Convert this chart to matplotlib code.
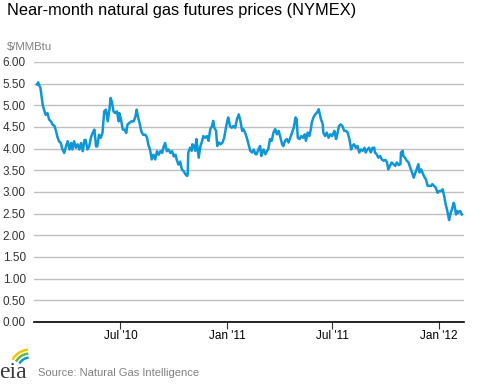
import matplotlib
matplotlib.use('Agg')
import matplotlib.pyplot as plt
from matplotlib.patches import Arc
import pandas as pd

plt.rcParams['font.family'] = ['Liberation Sans', 'DejaVu Sans']

# Near-month NYMEX natural gas futures ($/MMBtu)
start_date = '2010-02-04'
days = [3, 5, 7, 9, 11, 13, 16, 18, 21, 24, 27, 30, 33, 36, 38, 41, 44, 47, 50, 53,
        56, 59, 62, 64, 67, 70, 73, 76, 79, 82, 85, 87, 90, 93, 96, 99, 102, 105, 107, 110,
        113, 116, 119, 122, 125, 128, 130, 132, 135, 138, 141, 144, 145, 148, 151, 154, 157, 159, 162, 166,
        170, 173, 175, 177, 180, 183, 186, 190, 193, 195, 198, 201, 204, 207, 210, 213, 216, 219, 221, 224,
        227, 230, 233, 236, 239, 242, 244, 247, 250, 253, 256, 259, 262, 263, 264, 267, 270, 271, 274, 276,
        278, 280, 282, 285, 288, 290, 293, 296, 299, 302, 305, 307, 309, 312, 314, 317, 320, 323, 326, 329,
        332, 333, 336, 339, 342, 345, 348, 351, 354, 357, 359, 362, 365, 368, 371, 374, 377, 380, 382, 385,
        388, 390, 392, 394, 397, 400, 402, 405, 408, 411, 414, 417, 420, 423, 426, 428, 431, 434, 437, 440,
        443, 446, 449, 451, 453, 456, 459, 462, 465, 467, 470, 473, 476, 477, 480, 483, 486, 489, 493, 496,
        497, 500, 503, 506, 509, 512, 515, 516, 519, 521, 524, 527, 530, 533, 536, 539, 542, 545, 547, 550,
        553, 556, 559, 562, 565, 568, 570, 573, 576, 579, 582, 585, 586, 589, 592, 595, 598, 601, 604, 607,
        609, 612, 615, 618, 621, 624, 627, 630, 631, 634, 635, 638, 641, 644, 647, 650, 653, 656, 658, 661,
        663, 666, 669, 672, 674, 677, 680, 683, 685, 688, 691, 694, 697, 700, 703, 706, 708, 711, 714, 716,
        719, 722, 723, 726, 728, 730, 733, 736]
price = [5.48, 5.53, 5.46, 5.40, 5.20, 5.00, 4.86, 4.78, 4.82, 4.67, 4.63, 4.55, 4.53, 4.40, 4.28, 4.17, 4.13, 3.98, 3.90, 4.05,
         4.17, 3.98, 4.13, 3.98, 4.17, 4.02, 4.10, 3.98, 4.13, 3.94, 4.20, 4.20, 3.98, 4.05, 4.25, 4.36, 4.44, 4.05, 4.05, 4.32,
         4.25, 4.36, 4.86, 4.90, 4.63, 4.90, 5.17, 5.09, 4.86, 4.82, 4.86, 4.63, 4.82, 4.67, 4.44, 4.44, 4.36, 4.55, 4.59, 4.63,
         4.63, 4.75, 4.90, 4.75, 4.59, 4.40, 4.32, 4.32, 4.25, 4.09, 3.98, 3.75, 3.86, 3.75, 3.94, 3.86, 3.94, 3.90, 4.02, 4.13,
         3.94, 3.98, 3.90, 3.94, 3.82, 3.86, 3.75, 3.63, 3.70, 3.52, 3.48, 3.41, 3.37, 3.41, 3.90, 4.02, 3.95, 4.10, 4.06, 3.95,
         4.22, 4.02, 3.79, 4.06, 4.18, 4.29, 4.25, 4.29, 4.18, 4.45, 4.52, 4.64, 4.48, 4.41, 4.06, 4.14, 4.10, 4.14, 4.25, 4.48,
         4.68, 4.72, 4.52, 4.48, 4.52, 4.48, 4.68, 4.79, 4.64, 4.41, 4.45, 4.37, 4.25, 4.10, 3.95, 3.91, 3.98, 3.87, 3.87, 3.98,
         4.06, 3.83, 3.91, 3.98, 3.87, 3.95, 3.98, 4.22, 4.18, 4.37, 4.45, 4.33, 4.41, 4.25, 4.10, 4.06, 4.18, 4.22, 4.14, 4.25,
         4.37, 4.48, 4.72, 4.68, 4.25, 4.22, 4.29, 4.25, 4.33, 4.18, 4.37, 4.29, 4.48, 4.60, 4.72, 4.79, 4.83, 4.91, 4.68, 4.56,
         4.37, 4.29, 4.37, 4.25, 4.33, 4.29, 4.37, 4.41, 4.22, 4.33, 4.52, 4.56, 4.52, 4.41, 4.41, 4.37, 4.22, 3.98, 4.06, 4.10,
         4.02, 4.06, 3.91, 3.98, 3.95, 4.02, 3.91, 3.98, 4.02, 3.91, 4.02, 4.02, 3.91, 3.87, 3.79, 3.83, 3.75, 3.72, 3.74, 3.68,
         3.52, 3.60, 3.68, 3.64, 3.60, 3.68, 3.62, 3.64, 3.91, 3.95, 3.83, 3.79, 3.72, 3.68, 3.56, 3.45, 3.33, 3.45, 3.52, 3.64,
         3.45, 3.52, 3.41, 3.33, 3.29, 3.14, 3.14, 3.14, 3.18, 3.14, 3.10, 2.98, 3.02, 3.02, 3.06, 2.87, 2.72, 2.56, 2.35, 2.48,
         2.60, 2.75, 2.72, 2.48, 2.56, 2.52, 2.56, 2.48]

tick_dates = ['2010-07-01', '2011-01-01', '2011-07-01', '2012-01-01']
tick_labels = ["Jul '10", "Jan '11", "Jul '11", "Jan '12"]
y_ticks = [0, 0.5, 1, 1.5, 2, 2.5, 3, 3.5, 4, 4.5, 5, 5.5, 6]

dates = pd.Timestamp(start_date) + pd.to_timedelta(days, unit='D')

fig = plt.figure(figsize=(4.8, 3.85), dpi=100)
ax = fig.add_axes([0.071, 0.164, 0.896, 0.675])

ax.plot(dates, price, color='#0f96d6', lw=1.8, solid_joinstyle='round')

ax.set_ylim(0, 6)
ax.set_xlim(pd.Timestamp('2010-02-02'), pd.Timestamp('2012-02-14'))
ax.set_yticks(y_ticks)
ax.set_yticklabels([f'{v:.2f}' for v in y_ticks])
ax.set_xticks(pd.to_datetime(tick_dates))
ax.set_xticklabels(tick_labels)

ax.grid(axis='y', color='#c0c0c0', lw=1)
ax.set_axisbelow(True)
for side in ['left', 'right', 'top']:
    ax.spines[side].set_visible(False)
ax.spines['bottom'].set_color('black')
ax.spines['bottom'].set_linewidth(1.2)
ax.tick_params(axis='y', length=0, pad=6, labelsize=8.5, labelcolor='#333333')
ax.tick_params(axis='x', length=5, width=0.8, color='#333333', pad=1, labelsize=8.5, labelcolor='black')

fig.text(0.015, 0.972, 'Near-month natural gas futures prices (NYMEX)', fontsize=11.8,
         color='black', va='center', ha='left')
fig.text(0.015, 0.878, '$/MMBtu', fontsize=8.2, color='#808080', va='center', ha='left')
fig.text(0.079, 0.03, 'Source: Natural Gas Intelligence', fontsize=8, color='#808080',
         va='center', ha='left')

# eia logo
fig.text(-0.002, 0.004, 'eia', fontsize=17, family='Liberation Serif', color='#3a3a3a',
         va='bottom', ha='left')
lax = fig.add_axes([0.0, 0.04, 0.07, 0.065])
lax.set_xlim(0, 34)
lax.set_ylim(0, 25)
lax.axis('off')
for r, c in [(20, '#f2c500'), (16, '#6cb33f'), (12, '#0f96d6')]:
    lax.add_patch(Arc((30, 0), 2 * r, 2 * r, theta1=95, theta2=150, color=c, lw=1.8))

fig.savefig('out.png', dpi=100)
